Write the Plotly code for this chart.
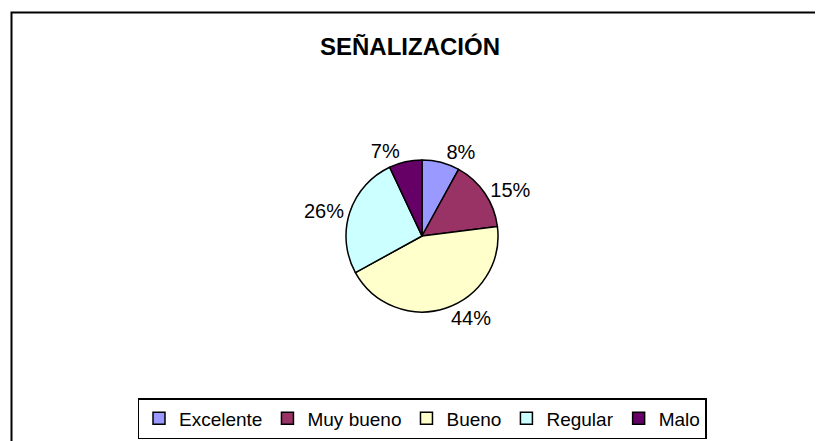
import plotly.graph_objects as go

categories = ["Excelente", "Muy bueno", "Bueno", "Regular", "Malo"]
values = [8, 15, 44, 26, 7]
colors = ["#9999FF", "#993366", "#FFFFCC", "#CCFFFF", "#660066"]
title_text = "SEÑALIZACIÓN"

W, H = 823, 441
FONT = "Liberation Sans, Arial, sans-serif"

# pie placement (figure px)
cx, cy, r = 414, 228, 76

fig = go.Figure(
    go.Pie(
        labels=categories,
        values=values,
        marker=dict(colors=colors, line=dict(color="black", width=1.5)),
        sort=False,
        direction="clockwise",
        rotation=0,
        textposition="outside",
        texttemplate="%{percent:.0%}",
        textfont=dict(family=FONT, size=20, color="black"),
        hoverinfo="label+percent",
        domain=dict(
            x=[(cx - r) / W, (cx + r) / W],
            y=[1 - (cy + r) / H, 1 - (cy - r) / H],
        ),
    )
)

fig.update_layout(
    width=W,
    height=H,
    margin=dict(l=0, r=0, t=0, b=0),
    paper_bgcolor="white",
    plot_bgcolor="white",
    font=dict(family=FONT, color="black"),
    title=dict(
        text="<b>" + title_text + "</b>",
        x=402 / W,
        xanchor="center",
        y=1 - 39 / H,
        yanchor="middle",
        font=dict(family=FONT, size=24, color="black"),
    ),
    showlegend=True,
    legend=dict(
        orientation="h",
        x=414 / W,
        xanchor="center",
        y=(H - 431) / H,
        yanchor="bottom",
        bordercolor="black",
        borderwidth=1.5,
        bgcolor="white",
        font=dict(family=FONT, size=19, color="black"),
        itemwidth=30,
        traceorder="normal",
    ),
    shapes=[
        dict(
            type="rect",
            xref="paper",
            yref="paper",
            x0=3.5 / W,
            x1=1.05,
            y0=-0.05,
            y1=1 - 4.5 / H,
            line=dict(color="black", width=2),
            fillcolor="rgba(0,0,0,0)",
            layer="below",
        )
    ],
)

fig.write_html("out.html")
